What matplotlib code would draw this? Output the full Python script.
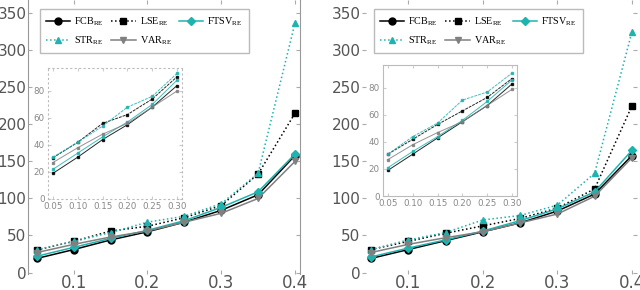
import numpy as np
import matplotlib
matplotlib.use('Agg')
import matplotlib.pyplot as plt

x = [0.05, 0.10, 0.15, 0.20, 0.25, 0.30, 0.35, 0.40]

# left panel
fcb_l = [19, 31, 44, 55, 68, 84, 105, 158]
lse_l = [30.5, 42, 56, 62.5, 74, 90.5, 133, 215]
ftsv_l = [22, 34, 46, 57, 70, 88, 109, 160]
str_l = [31, 42, 54, 68, 76, 93, 134, 337]
var_l = [27, 38, 48, 56, 68, 80, 100, 150]

# right panel
fcb_r = [19, 31, 43, 55, 67, 83, 106, 158]
lse_r = [31, 42, 53, 63, 73, 87, 113, 225]
ftsv_r = [21, 33, 44, 56, 70, 86, 109, 165]
str_r = [31, 44, 54, 71, 77, 91, 134, 325]
var_r = [27, 38, 47, 55, 67, 79, 103, 155]

names = [r'FCB$_{\mathrm{RE}}$', r'LSE$_{\mathrm{RE}}$', r'FTSV$_{\mathrm{RE}}$',
         r'STR$_{\mathrm{RE}}$', r'VAR$_{\mathrm{RE}}$']
teal = '#1fb3b0'
styles = [dict(color='black', ls='-', marker='o'),
          dict(color='black', ls=':', marker='s'),
          dict(color=teal, ls='-', marker='D'),
          dict(color=teal, ls=':', marker='^'),
          dict(color='#808080', ls='-', marker='v')]

plt.rcParams['mathtext.fontset'] = 'custom'
plt.rcParams['mathtext.rm'] = 'Liberation Serif'

fig = plt.figure(figsize=(6.4, 2.9), dpi=100)
W, H = 640.0, 290.0

def px(l, t, r, b):
    return [l / W, 1 - b / H, (r - l) / W, (b - t) / H]

panels = [
    (px(28, 0, 300, 274), [fcb_l, lse_l, ftsv_l, str_l, var_l], px(48, 68, 182, 199), True),
    (px(362, 0, 637, 274), [fcb_r, lse_r, ftsv_r, str_r, var_r], px(383, 65, 517, 196), False),
]

for rect, data, irect, solid in panels:
    ax = fig.add_axes(rect)
    handles = []
    for y, st, nm in zip(data, styles, names):
        ms = 5 if st['marker'] != 'D' else 4
        h, = ax.plot(x, y, color=st['color'], ls=st['ls'], marker=st['marker'],
                     ms=ms, lw=1.1, label=nm)
        handles.append(h)
    ax.set_xlim(0.038, 0.4068)
    ax.set_ylim(-2, 368)
    ax.set_xticks([0.1, 0.2, 0.3, 0.4])
    ax.set_xticklabels(['0.1', '0.2', '0.3', '0.4'])
    ax.set_yticks(range(0, 351, 50))
    ax.tick_params(axis='both', labelcolor='#555555', color='#aaaaaa',
                   length=3, direction='in', top=True, right=True)
    ax.tick_params(axis='y', labelsize=11, pad=1)
    ax.tick_params(axis='x', labelsize=12, pad=0)
    for s in ['top', 'bottom']:
        ax.spines[s].set_visible(False)
    if solid:
        ax.spines['left'].set_color('#999999')
        ax.spines['right'].set_color('#999999')
    else:
        ax.spines['left'].set_visible(False)
        ax.spines['right'].set_visible(False)
    # row-major order: FCB LSE FTSV / STR VAR
    order = [0, 3, 1, 4, 2]
    leg = ax.legend([handles[i] for i in order], [names[i] for i in order],
                    ncol=3, loc='upper left', bbox_to_anchor=(0.025, 0.985),
                    fancybox=False, edgecolor='#bbbbbb',
                    prop={'family': 'Liberation Serif', 'size': 7.3},
                    handlelength=2.4, handletextpad=0.4, columnspacing=0.7,
                    borderpad=0.6, labelspacing=0.6, framealpha=1)
    leg.get_frame().set_linewidth(1.0)

    ins = fig.add_axes(irect)
    for y, st in zip(data, styles):
        ins.plot(x[:6], y[:6], color=st['color'], ls='-' if st['ls'] == '-' else (0, (3, 1)),
                 marker='s', ms=2, lw=0.7, alpha=0.85)
    ins.set_xlim(0.04, 0.31)
    ins.set_ylim(0, 97)
    ins.set_xticks([0.05, 0.10, 0.15, 0.20, 0.25, 0.30])
    ins.set_xticklabels(['0.05', '0.10', '0.15', '0.20', '0.25', '0.30'])
    ins.set_yticks([0, 20, 40, 60, 80])
    ins.tick_params(axis='both', labelsize=6.3, labelcolor='#888888', color='#cccccc',
                    length=2, direction='in', pad=2.5, top=True, right=True)
    for s in ins.spines.values():
        s.set_color('#bbbbbb')
        s.set_linewidth(0.8)
        if solid:
            s.set_linestyle((0, (1, 3)))
    ins.patch.set_alpha(1)

fig.savefig('out.png', dpi=100)
